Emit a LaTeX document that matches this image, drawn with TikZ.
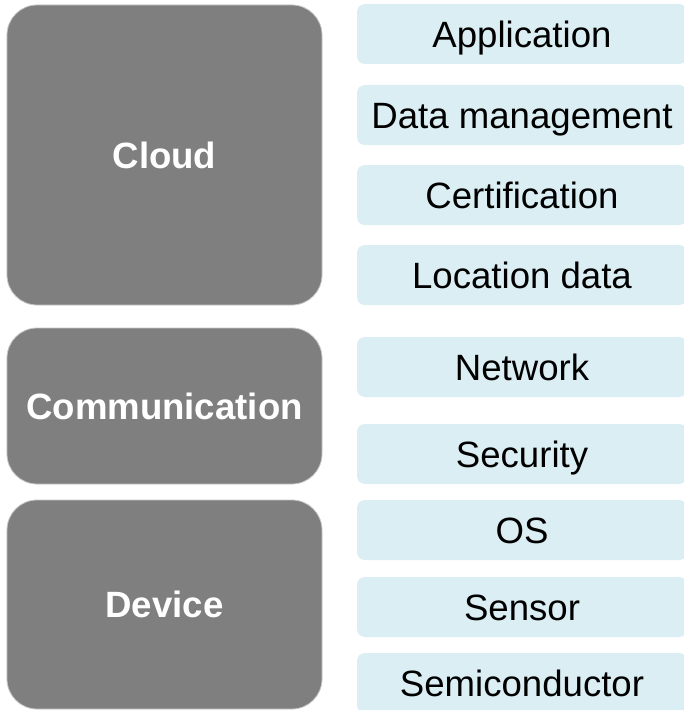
\documentclass[tikz,border=0pt]{standalone}
\usepackage{fontspec}
\setmainfont{Liberation Sans}
\definecolor{layergray}{HTML}{7F7F7F}
\definecolor{layeredge}{HTML}{C8C8C8}
\definecolor{itemblue}{HTML}{DAEEF3}
\begin{document}
\begin{tikzpicture}[x=1bp,y=-1bp,
  layer/.style={draw=layeredge, line width=0.8bp, fill=layergray, rounded corners=30bp,
    minimum width=315bp, inner sep=0pt, text=white,
    font=\fontsize{36.6bp}{40bp}\selectfont\bfseries, text height=26.2bp, text depth=0pt},
  item/.style={fill=itemblue, rounded corners=8bp, minimum width=330bp, minimum height=60bp,
    inner sep=0pt, text=black,
    font=\fontsize{36.6bp}{40bp}\selectfont, text height=26.2bp, text depth=0pt}]
\useasboundingbox (0,0) rectangle (684,710);
\fill[white] (0,0) rectangle (684,710);
\node[layer, minimum height=300bp] (cloud) at (164.5,155) {Cloud};
\node[layer, minimum height=156bp] (comm) at (164.5,406) {Communication};
\node[layer, minimum height=209bp] (device) at (164.5,604.5) {Device};
\node[item] (app) at (522,34) {Application};
\node[item] (data) at (522,115) {Data management};
\node[item] (cert) at (522,195) {Certification};
\node[item] (loc) at (522,275) {Location data};
\node[item] (net) at (522,367) {Network};
\node[item] (sec) at (522,454) {Security};
\node[item] (os) at (522,530) {OS};
\node[item] (sensor) at (522,607) {Sensor};
\node[item] (semi) at (522,683) {Semiconductor};
\end{tikzpicture}
\end{document}
